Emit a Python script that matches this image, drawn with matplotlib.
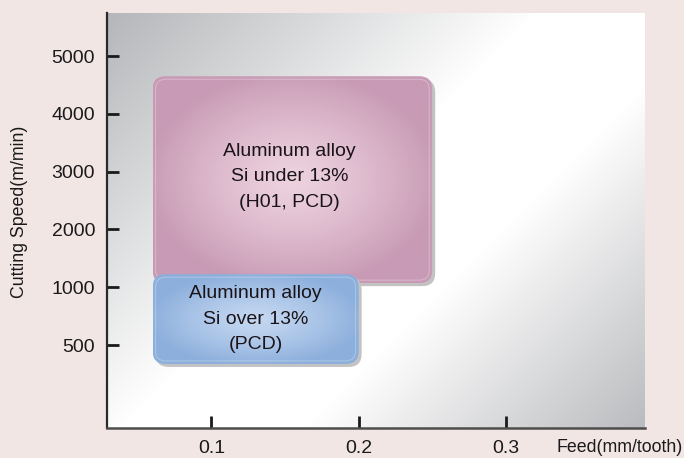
import numpy as np
import matplotlib
matplotlib.use("Agg")
import matplotlib.pyplot as plt
from matplotlib.patches import FancyBboxPatch
from matplotlib.colors import to_rgb

plt.rcParams['font.family'] = ['Liberation Sans', 'DejaVu Sans']

# Axis ticks
speed_ticks = [500, 1000, 2000, 3000, 4000, 5000]
feed_ticks = [0.1, 0.2, 0.3]
feed_tick_labels = ["0.1", "0.2", "0.3"]

# Application regions (feed range x cutting-speed range)
region_labels = ["Aluminum alloy\nSi under 13%\n(H01, PCD)",
                 "Aluminum alloy\nSi over 13%\n(PCD)"]
feed_min = [0.06, 0.06]
feed_max = [0.25, 0.20]
speed_min = [1070, 336]
speed_max = [4650, 1225]
edge_colors = ["#c89ab5", "#8cafdc"]
center_colors = ["#edd2de", "#c4d7f1"]

FIG_BG = "#f2e6e5"
DPI = 100


# Cutting-speed axis: 500 -> 1000 takes one step, then each 1000 m/min one step
def speed_to_pos(v):
    v = np.asarray(v, dtype=float)
    return np.where(v <= 1000, (v - 500) / 500.0, 1.0 + (v - 1000) / 1000.0)


def pos_to_speed(p):
    p = np.asarray(p, dtype=float)
    return np.where(p <= 1, 500 + 500 * p, 1000 + 1000 * (p - 1))


fig = plt.figure(figsize=(6.84, 4.58), dpi=DPI, facecolor=FIG_BG)
ax = fig.add_axes([107 / 684, 30 / 458, 538 / 684, 415 / 458])
ax.set_yscale('function', functions=(speed_to_pos, pos_to_speed))

# Diagonal grey-white-grey backdrop
W, H = 538, 415
xs = np.arange(W)[None, :]
ys = np.arange(H)[:, None]
t = (xs + ys) / float(W + H)
stops = [0.0, 0.45, 0.64, 1.0]
c_tl = np.array([180, 182, 185]) / 255.0
c_br = np.array([186, 187, 190]) / 255.0
bg = np.zeros((H, W, 3))
for k in range(3):
    bg[..., k] = np.interp(t, stops, [c_tl[k], 1.0, 1.0, c_br[k]])
ax.imshow(bg, extent=[0, 1, 0, 1], transform=ax.transAxes, aspect='auto',
          origin='upper', zorder=0, interpolation='bilinear')

ax.set_xlim(0.029, 0.3946)
ax.set_ylim(-218, 5744)

# Region boxes, drawn in inches so the corners stay round
to_in = ax.transData + fig.dpi_scale_trans.inverted()
px = 1.0 / DPI
radius = 13 * px
for i in range(len(region_labels)):
    (x0, y0) = to_in.transform((feed_min[i], speed_min[i]))
    (x1, y1) = to_in.transform((feed_max[i], speed_max[i]))
    w, h = x1 - x0, y1 - y0
    z = 2 + i * 0.5

    shadow = FancyBboxPatch((x0 + 3 * px, y0 - 3 * px), w, h,
                            boxstyle=f"round,pad=0,rounding_size={radius}",
                            transform=fig.dpi_scale_trans, facecolor="#c3c3c3",
                            edgecolor="none", zorder=z)
    ax.add_patch(shadow)

    box = FancyBboxPatch((x0, y0), w, h,
                         boxstyle=f"round,pad=0,rounding_size={radius}",
                         transform=fig.dpi_scale_trans, facecolor="none",
                         edgecolor="none", zorder=z + 0.1)
    ax.add_patch(box)

    # radial shading: light centre, darker rim
    n = 200
    u = np.linspace(-1, 1, n)[None, :]
    v = np.linspace(-1, 1, n)[:, None]
    r = np.clip(np.sqrt(u ** 2 + v ** 2) / 1.05, 0, 1) ** 1.3
    ce, ed = np.array(to_rgb(center_colors[i])), np.array(to_rgb(edge_colors[i]))
    grad = ce[None, None, :] * (1 - r[..., None]) + ed[None, None, :] * r[..., None]
    im = ax.imshow(grad, extent=[x0, x1, y0, y1], transform=fig.dpi_scale_trans,
                   aspect='auto', zorder=z + 0.1, interpolation='bilinear')
    im.set_clip_path(box)

    inset = 3 * px
    rim = FancyBboxPatch((x0 + inset, y0 + inset), w - 2 * inset, h - 2 * inset,
                         boxstyle=f"round,pad=0,rounding_size={radius - inset}",
                         transform=fig.dpi_scale_trans, facecolor="none",
                         edgecolor=(1, 1, 1, 0.3), linewidth=0.7, zorder=z + 0.2)
    ax.add_patch(rim)

    dx = -3 * px if i == 0 else 0.0
    dy = 3 * px if i == 0 else 0.0
    ax.text(x0 + w / 2 + dx, y0 + h / 2 + dy,
            region_labels[i], transform=fig.dpi_scale_trans,
            ha='center', va='center', multialignment='center',
            fontsize=14, color="#1a1418", linespacing=1.65, zorder=z + 0.3)

ax.set_yticks(speed_ticks)
ax.set_yticklabels([str(s) for s in speed_ticks])
ax.set_xticks(feed_ticks)
ax.set_xticklabels(feed_tick_labels)
ax.tick_params(direction='in', length=8.6, width=2, color="#1a1a1a",
               labelsize=14, labelcolor="#1a1a1a", pad=8.6)
ax.minorticks_off()

for side in ("top", "right"):
    ax.spines[side].set_visible(False)
ax.spines["left"].set_color("#2a2a2a")
ax.spines["left"].set_linewidth(1.6)
ax.spines["bottom"].set_color("#4d4d4d")
ax.spines["bottom"].set_linewidth(1.8)

fig.text(20 / 684, 1 - 212 / 458, "Cutting Speed(m/min)", rotation=90,
         ha='center', va='center', fontsize=12.8, color="#1a1a1a")
fig.text(557 / 684, 1 - 447 / 458, "Feed(mm/tooth)", ha='left', va='center',
         fontsize=12.8, color="#1a1a1a")

fig.savefig("out.png", dpi=DPI, facecolor=FIG_BG)
